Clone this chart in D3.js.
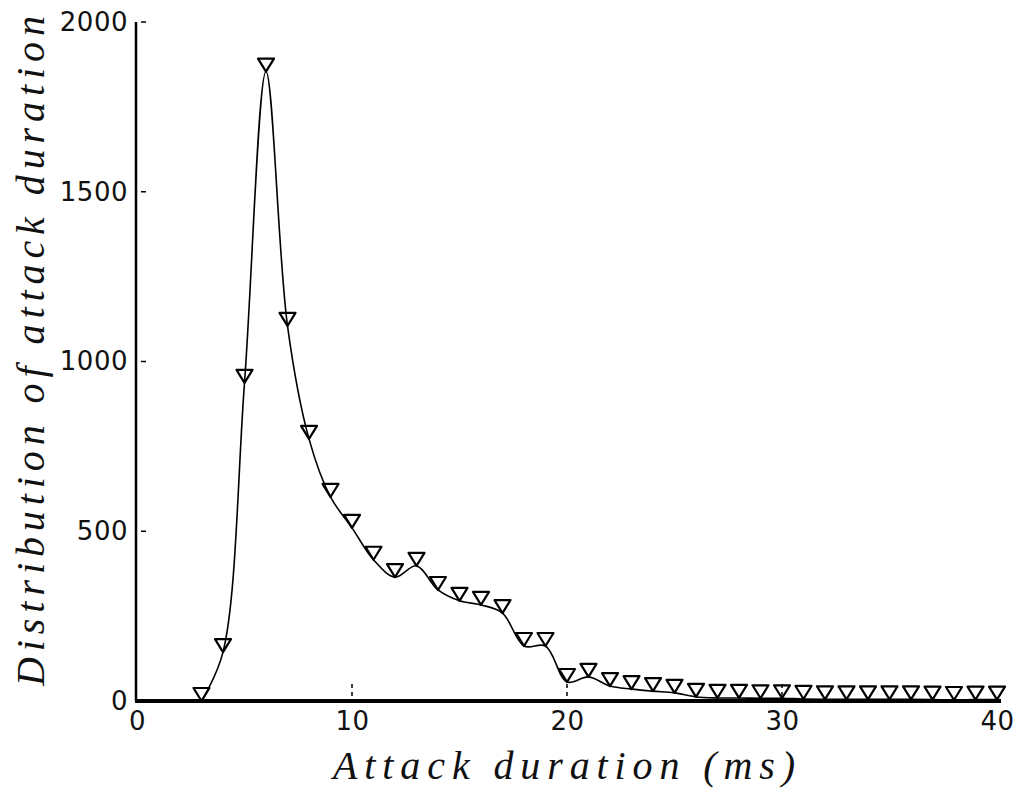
<!DOCTYPE html>
<html>
<head>
<meta charset="utf-8">
<script src="https://cdn.jsdelivr.net/npm/d3@7"></script>
<style>
  body { margin: 0; background: #fff; }
  svg { display: block; }
</style>
</head>
<body>
<svg id="chart" width="1022" height="792"></svg>
<script>
// Attack duration (ms) and how often each duration occurs
const durations = [3, 4, 5, 6, 7, 8, 9, 10, 11, 12, 13, 14, 15, 16, 17, 18, 19, 20, 21,
  22, 23, 24, 25, 26, 27, 28, 29, 30, 31, 32, 33, 34, 35, 36, 37, 38, 39, 40];
const counts = [0, 144, 937, 1854, 1105, 772, 601, 510, 416, 365, 398, 327, 295, 283, 259, 162, 162, 56, 71,
  44, 35, 29, 24, 12, 9, 9, 8, 8, 6, 5, 5, 5, 5, 5, 4, 3, 4, 4];
const xTicks = [0, 10, 20, 30, 40];
const yTicks = [0, 500, 1000, 1500, 2000];
const xTitle = "Attack duration (ms)";
const yTitle = "Distribution of attack duration";

const svg = d3.select("#chart");
svg.append("rect").attr("width", 1022).attr("height", 792).attr("fill", "#fff");

const x = d3.scaleLinear().domain([0, 40]).range([137, 997]);
const y = d3.scaleLinear().domain([0, 2000]).range([701, 22]);

const points = durations.map((d, i) => ({ d, c: counts[i] }));

const tickFont = "'DejaVu Sans', 'Open Sans', sans-serif";
const titleFont = "'Liberation Serif', 'DejaVu Serif', serif";

// Y axis: line, inward tick dashes, labels
svg.append("line")
  .attr("x1", x(0) - 1).attr("x2", x(0) - 1)
  .attr("y1", y(2000)).attr("y2", y(0))
  .attr("stroke", "#000").attr("stroke-width", 2.5);

const yAxis = d3.axisLeft(y).tickValues(yTicks).tickSize(0).tickPadding(0).tickFormat(d3.format("d"));
const gy = svg.append("g").attr("transform", `translate(${x(0) - 9},0)`).call(yAxis);
gy.select(".domain").remove();
gy.selectAll("text")
  .attr("font-family", tickFont).attr("font-size", 26).attr("font-weight", 400)
  .attr("fill", "#111").attr("letter-spacing", 0.5);

svg.append("g").selectAll("line").data(yTicks.filter(v => v > 0)).join("line")
  .attr("x1", x(0) + 4).attr("x2", x(0) + 9)
  .attr("y1", d => y(d)).attr("y2", d => y(d))
  .attr("stroke", "#000").attr("stroke-width", 1.5);

// X axis: heavy baseline, inward dashed ticks, labels
svg.append("line")
  .attr("x1", x(0) - 2).attr("x2", x(40) + 4)
  .attr("y1", y(0)).attr("y2", y(0))
  .attr("stroke", "#000").attr("stroke-width", 4);

svg.append("g").selectAll("line").data(xTicks.filter(v => v > 0 && v < 40)).join("line")
  .attr("x1", d => x(d)).attr("x2", d => x(d))
  .attr("y1", y(0) - 17).attr("y2", y(0) - 3)
  .attr("stroke", "#000").attr("stroke-width", 1.5)
  .attr("stroke-dasharray", "4,4");

const xAxis = d3.axisBottom(x).tickValues(xTicks).tickSize(0).tickPadding(0).tickFormat(d3.format("d"));
const gx = svg.append("g").attr("transform", `translate(0,${y(0) + 11})`).call(xAxis);
gx.select(".domain").remove();
gx.selectAll("text")
  .attr("font-family", tickFont).attr("font-size", 26).attr("font-weight", 400)
  .attr("fill", "#111").attr("letter-spacing", 0.5);

// Smoothed distribution curve
const curve = d3.line()
  .x(p => x(p.d))
  .y(p => y(p.c))
  .curve(d3.curveCatmullRom.alpha(0.5));

svg.append("path")
  .datum(points)
  .attr("d", curve)
  .attr("fill", "none")
  .attr("stroke", "#000")
  .attr("stroke-width", 1.6);

// Downward triangle markers, tip on the data value
const triW = 8, triH = 13;
svg.append("g").selectAll("path").data(points).join("path")
  .attr("d", p => {
    const px = x(p.d), py = y(p.c);
    return `M${px - triW},${py - triH}L${px + triW},${py - triH}L${px},${py}Z`;
  })
  .attr("fill", "none")
  .attr("stroke", "#000")
  .attr("stroke-width", 2.2)
  .attr("stroke-linejoin", "round");

// Axis titles
svg.append("text")
  .attr("x", 333).attr("y", 779)
  .attr("font-family", titleFont).attr("font-style", "italic")
  .attr("font-size", 40).attr("fill", "#111")
  .attr("textLength", 462).attr("lengthAdjust", "spacing")
  .text(xTitle);

svg.append("text")
  .attr("transform", "translate(44,686) rotate(-90)")
  .attr("font-family", titleFont).attr("font-style", "italic")
  .attr("font-size", 40).attr("fill", "#111")
  .attr("textLength", 670).attr("lengthAdjust", "spacing")
  .text(yTitle);
</script>
</body>
</html>
